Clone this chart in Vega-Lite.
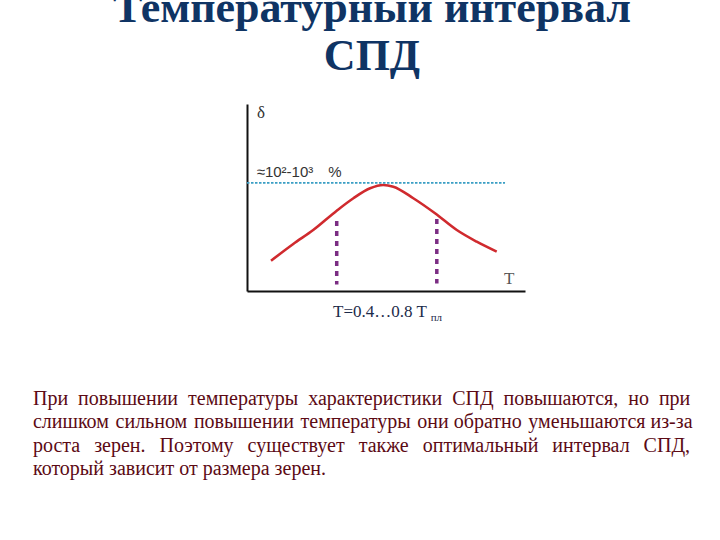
{
  "$schema": "https://vega.github.io/schema/vega-lite/v6.json",
  "width": 278,
  "height": 187,
  "autosize": {"type": "none"},
  "padding": {"left": 247, "top": 104, "right": 195, "bottom": 249},
  "background": "white",
  "config": {"view": {"stroke": null}},
  "title": {
    "text": ["Температурный интервал", "СПД"],
    "font": "Liberation Serif",
    "fontWeight": "bold",
    "fontSize": 44,
    "lineHeight": 48,
    "color": "#0f3464",
    "anchor": "middle",
    "dx": -14,
    "dy": -21.5
  },
  "layer": [
    {
      "data": {"values": [
        {"T": 0.145, "delta": 0.280},
        {"T": 0.233, "delta": 0.435},
        {"T": 0.312, "delta": 0.564},
        {"T": 0.405, "delta": 0.743},
        {"T": 0.471, "delta": 0.858},
        {"T": 0.537, "delta": 0.950},
        {"T": 0.589, "delta": 0.981},
        {"T": 0.629, "delta": 0.965},
        {"T": 0.708, "delta": 0.858},
        {"T": 0.794, "delta": 0.719},
        {"T": 0.880, "delta": 0.564},
        {"T": 0.959, "delta": 0.456},
        {"T": 1.038, "delta": 0.364}
      ]},
      "mark": {"type": "line", "color": "#d02a2e", "strokeWidth": 2.6, "interpolate": "monotone"},
      "encoding": {
        "x": {"field": "T", "type": "quantitative",
              "scale": {"domain": [0.05, 1.15], "nice": false, "zero": false},
              "axis": {"title": null, "labels": false, "ticks": false, "grid": false, "domainColor": "#111111", "domainWidth": 2}},
        "y": {"field": "delta", "type": "quantitative",
              "scale": {"domain": [0, 1.73], "nice": false, "zero": false},
              "axis": {"title": null, "labels": false, "ticks": false, "grid": false, "domainColor": "#111111", "domainWidth": 2}}
      }
    },
    {
      "data": {"values": [{"T0": 0.05, "T1": 1.071, "delta": 1.0}]},
      "mark": {"type": "rule", "color": "#3a9ec4", "strokeWidth": 1.6, "strokeDash": [2.5, 1.5]},
      "encoding": {
        "x": {"field": "T0", "type": "quantitative"},
        "x2": {"field": "T1"},
        "y": {"field": "delta", "type": "quantitative"}
      }
    },
    {
      "data": {"values": [
        {"T": 0.405, "lo": 0.06, "hi": 0.648},
        {"T": 0.801, "lo": 0.07, "hi": 0.666}
      ]},
      "mark": {"type": "rule", "color": "#7b2d83", "strokeWidth": 3.5, "strokeDash": [5, 5]},
      "encoding": {
        "x": {"field": "T", "type": "quantitative"},
        "y": {"field": "hi", "type": "quantitative"},
        "y2": {"field": "lo"}
      }
    },
    {
      "data": {"values": [{}]},
      "mark": {"type": "text", "text": "δ", "font": "Liberation Serif", "fontSize": 17, "color": "#333333", "align": "left", "baseline": "alphabetic"},
      "encoding": {"x": {"datum": 0.0896}, "y": {"datum": 1.6}}
    },
    {
      "data": {"values": [{}]},
      "mark": {"type": "text", "text": "≈10²-10³\u2003%", "font": "Liberation Sans", "fontSize": 15, "color": "#333333", "align": "left", "baseline": "alphabetic"},
      "encoding": {"x": {"datum": 0.0884}, "y": {"datum": 1.057}}
    },
    {
      "data": {"values": [{}]},
      "mark": {"type": "text", "text": "T", "font": "Liberation Serif", "fontSize": 17, "color": "#555555", "align": "left", "baseline": "alphabetic"},
      "encoding": {"x": {"datum": 1.067}, "y": {"datum": 0.0648}}
    },
    {
      "data": {"values": [{}]},
      "mark": {"type": "text", "text": "T=0.4…0.8 T", "font": "Liberation Serif", "fontSize": 17, "color": "#1c2b4a", "align": "left", "baseline": "alphabetic"},
      "encoding": {"x": {"datum": 0.3903}, "y": {"datum": -0.2405}}
    },
    {
      "data": {"values": [{}]},
      "mark": {"type": "text", "text": "пл", "font": "Liberation Serif", "fontSize": 11, "color": "#1c2b4a", "align": "left", "baseline": "alphabetic"},
      "encoding": {"x": {"datum": 0.777}, "y": {"datum": -0.2775}}
    },
    {
      "data": {"values": [{}]},
      "mark": {"type": "text", "lineBreak": "\n", "lineHeight": 23.3,
               "text": "При \u2005повышении \u2005температуры \u2005характеристики \u2005СПД \u2005повышаются, \u2005но \u2005при\nслишком \u200aсильном \u200aповышении \u200aтемпературы \u200aони обратно \u200aуменьшаются из-за\nроста \u2005\u2009зерен. \u2005\u2009Поэтому \u2005\u2009существует \u2005\u2009также \u2005\u2009оптимальный \u2005\u2009интервал \u2005\u2009СПД,\nкоторый зависит от размера зерен.",
               "font": "Liberation Serif", "fontSize": 20, "color": "#5c0a14", "align": "left", "baseline": "alphabetic"},
      "encoding": {"x": {"datum": -0.797}, "y": {"datum": -1.0546}}
    }
  ]
}
